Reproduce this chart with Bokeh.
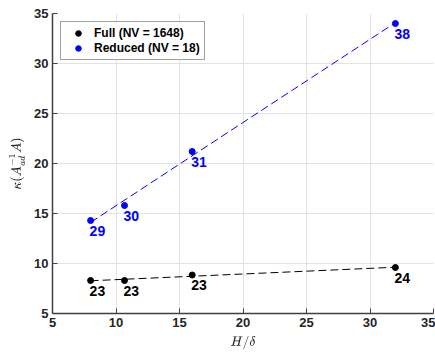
import numpy as np
from bokeh.plotting import figure
from bokeh.models import ColumnDataSource, Legend, LegendItem
from bokeh.embed import file_html
from bokeh.resources import INLINE
from bokeh.core.properties import value

# Data
h_delta = [8, 10.67, 16, 32]
full_kappa = [8.3, 8.3, 8.85, 9.6]
full_iters = ["23", "23", "23", "24"]
red_kappa = [14.3, 15.8, 21.2, 34.0]
red_iters = ["29", "30", "31", "38"]
x_ticks = [5, 10, 15, 20, 25, 30, 35]
y_ticks = [5, 10, 15, 20, 25, 30, 35]

FONT = "Liberation Sans"
AXC = "#404040"

p = figure(width=435, height=354, x_range=(5, 35), y_range=(5, 35),
           output_backend="svg", toolbar_location=None,
           min_border_left=52, min_border_right=2, min_border_top=13, min_border_bottom=41)
p.outline_line_color = None
p.background_fill_color = "white"

for ax, ticks in ((p.xaxis[0], x_ticks), (p.yaxis[0], y_ticks)):
    ax.ticker = ticks
    ax.major_tick_in = 5
    ax.major_tick_out = 0
    ax.minor_tick_line_color = None
    ax.axis_line_color = AXC
    ax.axis_line_width = 1.5
    ax.major_tick_line_color = AXC
    ax.major_label_text_font = FONT
    ax.major_label_text_font_style = "bold"
    ax.major_label_text_font_size = "13px"
    ax.major_label_text_color = "#262626"
    ax.axis_label_text_color = "#262626"
    ax.axis_label_text_font_size = "11px"

p.xaxis.axis_label = r"$$H/\delta$$"
p.yaxis.axis_label = r"$$\kappa(A_{ad}^{-1}A)$$"
p.xaxis.axis_label_standoff = 6
p.yaxis.axis_label_standoff = 6
p.xaxis.major_label_standoff = 4
p.yaxis.major_label_standoff = 4

p.grid.grid_line_color = "#e3e3e3"
p.grid.grid_line_width = 1

# linear fits
fx = np.array([min(h_delta), max(h_delta)])
cf = np.polyfit(h_delta, full_kappa, 1)
cr = np.polyfit(h_delta, red_kappa, 1)
p.line(fx, np.polyval(cf, fx), line_color="black", line_dash="8 4", line_width=1)
p.line(fx, np.polyval(cr, fx), line_color="blue", line_dash="8 4", line_width=1)

sf = ColumnDataSource(dict(x=h_delta, y=full_kappa, t=full_iters))
sr = ColumnDataSource(dict(x=h_delta, y=red_kappa, t=red_iters))
rf = p.scatter("x", "y", source=sf, size=6, color="black")
rr = p.scatter("x", "y", source=sr, size=6, color="blue")

for src, col in ((sf, "black"), (sr, "blue")):
    p.text("x", "y", text="t", source=src, text_color=col, text_font=value(FONT),
           text_font_style="bold", text_font_size="14px", text_align="left",
           text_baseline="top", x_offset=-1, y_offset=5)

legend = Legend(items=[LegendItem(label="Full (NV = 1648)", renderers=[rf]),
                       LegendItem(label="Reduced (NV = 18)", renderers=[rr])],
                location="top_left", margin=8, padding=4, spacing=1,
                glyph_width=26, glyph_height=14, label_height=14, label_standoff=3,
                label_text_font=FONT, label_text_font_style="bold",
                label_text_font_size="12px", label_text_color="black",
                border_line_color=AXC, border_line_width=1)
p.add_layout(legend, "center")

open("out.html", "w").write(file_html(p, INLINE))
